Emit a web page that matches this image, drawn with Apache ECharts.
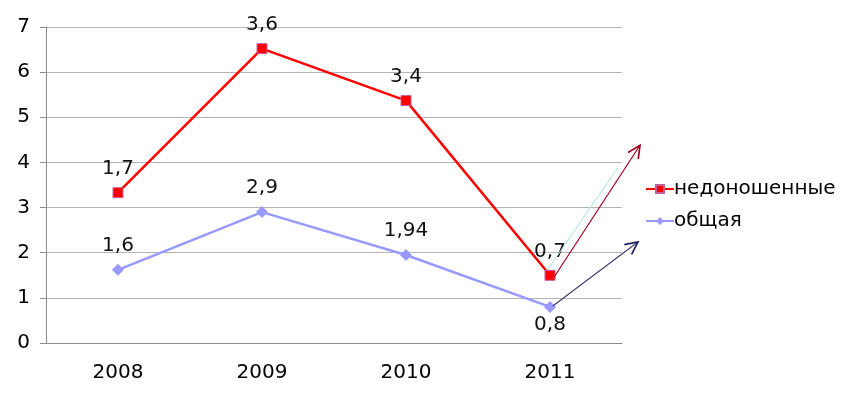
<!DOCTYPE html>
<html>
<head>
<meta charset="utf-8">
<script src="https://cdn.jsdelivr.net/npm/echarts@6/dist/echarts.min.js"></script>
<style>
  html, body { margin: 0; padding: 0; background: #fff; }
  #chart { width: 855px; height: 399px; }
</style>
</head>
<body>
<div id="chart"></div>
<script>
// данные
const years = ["2008", "2009", "2010", "2011"];
const prematureValues = [3.33, 6.52, 5.37, 1.5];
const prematureLabels = ["1,7", "3,6", "3,4", "0,7"];
const totalValues = [1.62, 2.9, 1.95, 0.8];
const totalLabels = ["1,6", "2,9", "1,94", "0,8"];

const FONT = "DejaVu Sans, Liberation Sans, sans-serif";

const chart = echarts.init(document.getElementById("chart"), null, { renderer: "canvas" });

chart.setOption({
  animation: false,
  grid: { left: 46, right: 233, top: 27, bottom: 56 },
  legend: {
    orient: "vertical",
    left: 640,
    top: 174,
    itemGap: 12,
    itemWidth: 28,
    itemHeight: 10,
    textStyle: { fontFamily: FONT, fontSize: 20, color: "#000", padding: [0, 0, 0, -5] },
    data: ["недоношенные", "общая"]
  },
  xAxis: {
    type: "category",
    data: years,
    axisLine: { lineStyle: { color: "#8c8c8c" } },
    axisTick: { length: 7, lineStyle: { color: "#8c8c8c" } },
    axisLabel: { fontFamily: FONT, fontSize: 20, color: "#000", margin: 20 }
  },
  yAxis: {
    type: "value",
    min: 0,
    max: 7,
    interval: 1,
    axisLine: { show: true, lineStyle: { color: "#8c8c8c" } },
    axisTick: { show: true, length: 6, lineStyle: { color: "#8c8c8c" } },
    splitLine: { lineStyle: { color: "#b4b4b4" } },
    axisLabel: { fontFamily: FONT, fontSize: 20, color: "#000", margin: 16 }
  },
  series: [
    {
      name: "недоношенные",
      type: "line",
      data: prematureValues,
      color: "#ff0000",
      lineStyle: { width: 2.5, color: "#ff0000" },
      symbol: "rect",
      symbolSize: 10,
      itemStyle: { color: "#ff0000", borderColor: "#c0609a", borderWidth: 1 },
      label: {
        show: true,
        position: "top",
        distance: 8,
        fontFamily: FONT,
        fontSize: 20,
        color: "#111",
        formatter: (p) => prematureLabels[p.dataIndex]
      },
      z: 3
    },
    {
      name: "общая",
      type: "line",
      data: totalValues,
      color: "#9999ff",
      lineStyle: { width: 2.5, color: "#9999ff" },
      symbol: "diamond",
      symbolSize: 12,
      itemStyle: { color: "#9999ff" },
      label: {
        show: true,
        position: "top",
        distance: 8,
        fontFamily: FONT,
        fontSize: 20,
        color: "#111",
        formatter: (p) => totalLabels[p.dataIndex]
      },
      labelLayout: (p) => p.dataIndex === 3 ? { dy: 42 } : {},
      z: 2
    }
  ]
});

// стрелки к легенде
const arrowLine = (from, to, color, width, head) => {
  const els = [{
    type: "line",
    shape: { x1: from[0], y1: from[1], x2: to[0], y2: to[1] },
    style: { stroke: color, lineWidth: width },
    z: 10
  }];
  if (head) {
    const ang = Math.atan2(to[1] - from[1], to[0] - from[0]);
    const len = 14, spread = 0.45;
    const p1 = [to[0] - len * Math.cos(ang - spread), to[1] - len * Math.sin(ang - spread)];
    const p2 = [to[0] - len * Math.cos(ang + spread), to[1] - len * Math.sin(ang + spread)];
    els.push({
      type: "polyline",
      shape: { points: [p1, to, p2] },
      style: { stroke: color, lineWidth: width + 0.5, fill: null },
      z: 10
    });
  }
  return els;
};

const redPt = chart.convertToPixel({ seriesIndex: 0 }, ["2011", prematureValues[3]]);
const bluePt = chart.convertToPixel({ seriesIndex: 1 }, ["2011", totalValues[3]]);

chart.setOption({
  graphic: [
    ...arrowLine([redPt[0] - 2, redPt[1] - 6], [redPt[0] + 68, redPt[1] - 108], "#a8e0e0", 1, false),
    ...arrowLine([redPt[0] + 4, redPt[1] + 2], [redPt[0] + 90, redPt[1] - 130], "#a00020", 1.2, true),
    ...arrowLine([bluePt[0] + 3, bluePt[1] - 1], [bluePt[0] + 88, bluePt[1] - 65], "#202060", 1.2, true)
  ]
});
</script>
</body>
</html>
